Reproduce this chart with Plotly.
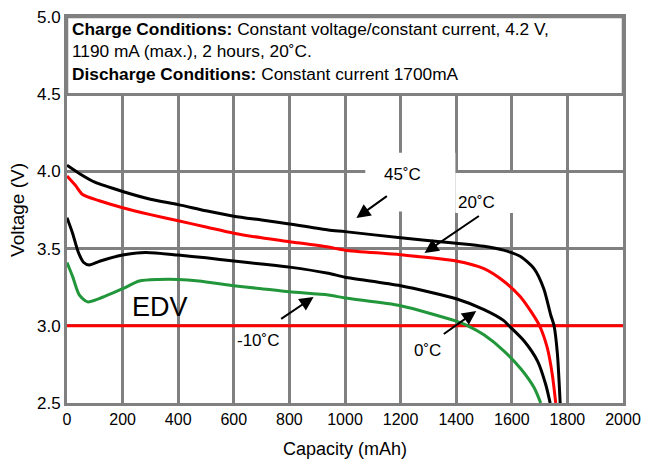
import plotly.graph_objects as go

# Discharge curves at 1700 mA for four cell temperatures
cap_45 = [0, 50, 100, 200, 300, 400, 500, 600, 700, 800, 940, 1000, 1200, 1400, 1500,
          1570, 1630, 1680, 1715, 1740, 1752, 1764, 1774]
volt_45 = [4.04, 3.98, 3.93, 3.87, 3.82, 3.785, 3.745, 3.71, 3.685, 3.66, 3.62, 3.61, 3.57,
           3.535, 3.515, 3.49, 3.45, 3.37, 3.24, 3.07, 3.0, 2.82, 2.5]

cap_20 = [0, 30, 56, 116, 200, 300, 400, 500, 600, 700, 800, 940, 1000, 1200, 1400, 1500,
          1570, 1630, 1670, 1700, 1728, 1746, 1758]
volt_20 = [3.97, 3.91, 3.85, 3.81, 3.765, 3.72, 3.68, 3.64, 3.60, 3.57, 3.545, 3.51, 3.49,
           3.46, 3.42, 3.37, 3.29, 3.19, 3.09, 3.0, 2.855, 2.68, 2.5]

cap_0 = [0, 20, 40, 60, 80, 120, 200, 283, 400, 500, 600, 700, 800, 940, 1000, 1200, 1400,
         1500, 1570, 1590, 1645, 1693, 1722, 1738]
volt_0 = [3.70, 3.60, 3.48, 3.41, 3.394, 3.42, 3.458, 3.475, 3.458, 3.44, 3.42, 3.40, 3.38,
          3.34, 3.315, 3.26, 3.175, 3.105, 3.035, 3.0, 2.90, 2.77, 2.62, 2.5]

cap_m10 = [0, 20, 44, 74, 116, 200, 260, 330, 400, 474, 600, 700, 800, 940, 1000, 1200,
           1400, 1442, 1501, 1573, 1633, 1680, 1704]
volt_m10 = [3.41, 3.32, 3.20, 3.155, 3.176, 3.24, 3.29, 3.30, 3.30, 3.29, 3.26, 3.24, 3.22,
            3.20, 3.18, 3.13, 3.03, 3.0, 2.94, 2.835, 2.72, 2.60, 2.5]

# End-of-discharge voltage
edv_cap = [0, 2000]
edv_volt = [3.0, 3.0]

x_ticks = [0, 200, 400, 600, 800, 1000, 1200, 1400, 1600, 1800, 2000]
y_ticks = [2.5, 3.0, 3.5, 4.0, 4.5, 5.0]

GRID = "rgb(128,128,128)"
FONT = "Liberation Sans, Arial, sans-serif"
GREEN = "rgb(34,150,58)"

fig = go.Figure()

fig.add_trace(go.Scatter(x=edv_cap, y=edv_volt, mode="lines",
                         line=dict(color="red", width=3), showlegend=False))
for cx, vy, col in [(cap_m10, volt_m10, GREEN), (cap_0, volt_0, "black"),
                    (cap_20, volt_20, "red"), (cap_45, volt_45, "black")]:
    fig.add_trace(go.Scatter(x=cx, y=vy, mode="lines",
                             line=dict(color=col, width=3, shape="spline", smoothing=0.7),
                             showlegend=False))

# Header panel with test conditions
fig.add_shape(type="rect", xref="x", yref="y", x0=0, x1=2000, y0=4.5, y1=5.0,
              fillcolor="white", line=dict(color=GRID, width=2.5), layer="between")
# White backdrops behind the upper temperature labels
fig.add_shape(type="rect", xref="x", yref="y", x0=1073, x1=1397, y0=3.74, y1=4.12,
              fillcolor="white", line=dict(width=0), layer="between")
fig.add_shape(type="rect", xref="x", yref="y", x0=1397, x1=1720, y0=3.73, y1=3.99,
              fillcolor="white", line=dict(width=0), layer="between")

header = ("<b>Charge Conditions:</b> Constant voltage/constant current, 4.2 V,<br>"
          "1190 mA (max.), 2 hours, 20˚C.<br>"
          "<b>Discharge Conditions:</b> Constant current 1700mA")
fig.add_annotation(x=0, y=1, xref="x domain", yref="y domain", text=header,
                   showarrow=False, xanchor="left", yanchor="top", align="left",
                   xshift=3, yshift=0, font=dict(family=FONT, size=17.3, color="black"))

fig.add_annotation(x=336, y=3.12, xref="x", yref="y", text="EDV", showarrow=False,
                   font=dict(family=FONT, size=27, color="black"))

labels = [("45˚C", 1206, 3.977), ("20˚C", 1472, 3.80), ("0˚C", 1296, 2.843),
          ("-10˚C", 688, 2.908)]
for txt, lx, ly in labels:
    fig.add_annotation(x=lx, y=ly, xref="x", yref="y", text=txt, showarrow=False,
                       font=dict(family=FONT, size=17, color="black"))

arrows = [(1041, 3.698, 1156, 3.847), (1286, 3.472, 1487, 3.718),
          (1472, 3.096, 1350, 2.94), (887, 3.187, 765, 3.038)]
for hx, hy, tx, ty in arrows:
    fig.add_annotation(x=hx, y=hy, ax=tx, ay=ty, xref="x", yref="y", axref="x", ayref="y",
                       text="", showarrow=True, arrowhead=2, arrowsize=1.4, arrowwidth=2,
                       arrowcolor="black")

fig.update_xaxes(range=[0, 2000], tickvals=x_ticks, ticktext=[str(v) for v in x_ticks],
                 showgrid=True, gridcolor=GRID, gridwidth=2.5, zeroline=False,
                 showline=True, linecolor=GRID, linewidth=3, mirror=True, automargin=False,
                 ticks="", tickfont=dict(family=FONT, size=16, color="black"),
                 title=dict(text="Capacity (mAh)", font=dict(family=FONT, size=18, color="black"),
                            standoff=16))
fig.update_yaxes(range=[2.5, 5.0], tickvals=y_ticks, ticktext=[f"{v:.1f}" for v in y_ticks],
                 showgrid=True, gridcolor=GRID, gridwidth=2.5, zeroline=False,
                 showline=True, linecolor=GRID, linewidth=3, mirror=True, automargin=False,
                 ticks="", tickfont=dict(family=FONT, size=17, color="black"),
                 title=dict(text="Voltage (V)", font=dict(family=FONT, size=19, color="black"),
                            standoff=8))

fig.update_layout(width=646, height=461, margin=dict(l=67, r=23, t=17, b=58),
                  plot_bgcolor="white", paper_bgcolor="white")

fig.write_html("out.html")
